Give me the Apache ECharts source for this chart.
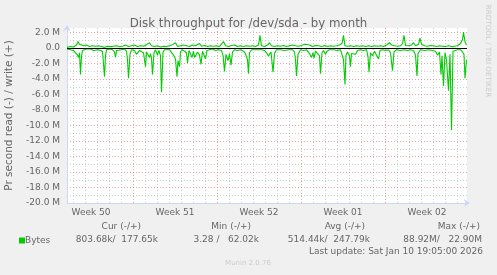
<!DOCTYPE html>
<html><head><meta charset="utf-8">
<script src="https://cdn.jsdelivr.net/npm/echarts@6/dist/echarts.min.js"></script>
<style>html,body{margin:0;padding:0;background:#f0f0f0}#c{width:497px;height:275px}</style>
</head><body><div id="c"></div>
<script>
const titleText = 'Disk throughput for /dev/sda - by month';
const yAxisTitle = 'Pr second read (-) / write (+)';
const weekLabels = ['Week 50', 'Week 51', 'Week 52', 'Week 01', 'Week 02'];
// hours since start of week 50; values in MB/s (read negative)
const readHours = [36,43,49,53,57,59,61,63,65,67,71,75,79,83,89,93,99,103,107,111,113,115,121,127,131,133,135,139,145,151,155,157,159,162,165,171,175,178,181,185,189,193,195,199,201,203,205,207,210,213,217,220,223,225,228,231,235,241,245,249,253,256,258,261,263,267,271,275,277,280,283,286,289,291,294,297,301,304,307,311,313,316,321,327,333,339,345,348,351,354,358,361,364,367,371,377,383,389,393,397,399,401,405,413,419,425,431,435,439,441,444,448,451,455,463,471,479,487,491,493,495,498,500,503,509,515,521,523,525,528,530,533,537,541,543,546,549,553,556,561,569,577,583,587,589,592,594,597,601,603,605,609,613,617,623,629,635,638,640,643,647,651,655,659,662,667,673,679,683,687,690,695,703,711,717,723,729,733,736,738,743,751,759,767,773,777,781,784,786,789,792,795,799,802,805,808,811,817,823,827,830,832,835];
const readMB = [-0.1,-0.2,-0.3,-0.5,-0.9,-1.2,-0.6,-3.4,-1.0,-0.3,-0.2,-0.1,-0.2,-0.1,-0.3,-0.1,-0.2,-0.1,-0.4,-3.7,-1.0,-0.2,-0.1,-0.2,-0.5,-1.2,-0.3,-0.1,-0.2,-0.1,-0.4,-1.5,-3.9,-0.8,-0.2,-0.3,-0.8,-0.9,-0.3,-0.2,-0.6,-2.4,-0.5,-0.6,-1.2,-0.7,-1.3,-3.4,-0.6,-0.2,-0.9,-0.3,-1.0,-5.7,-0.5,-0.2,-0.1,-0.2,-0.3,-0.9,-1.4,-3.7,-1.6,-2.4,-0.5,-0.2,-0.3,-0.6,-1.9,-0.3,-0.2,-1.2,-0.4,-1.2,-0.9,-0.5,-0.9,-2.1,-0.4,-0.6,-1.4,-0.3,-0.2,-0.1,-0.3,-0.2,-0.3,-0.9,-3.0,-0.8,-1.6,-0.7,-2.2,-0.5,-0.2,-0.3,-0.2,-0.4,-0.7,-1.5,-3.3,-0.6,-0.2,-0.2,-0.2,-0.2,-0.3,-0.6,-1.0,-1.2,-0.5,-3.1,-0.7,-0.2,-0.2,-0.3,-0.2,-0.2,-0.5,-1.5,-3.6,-0.8,-0.7,-0.2,-0.3,-0.2,-0.7,-0.9,-1.2,-0.6,-1.3,-0.4,-0.3,-1.0,-3.3,-0.6,-0.3,-0.8,-0.4,-0.2,-0.2,-0.3,-0.2,-0.4,-1.5,-4.7,-0.9,-0.5,-1.0,-2.4,-0.7,-0.5,-0.8,-0.3,-0.2,-0.3,-0.2,-1.1,-3.1,-0.6,-1.0,-0.4,-0.3,-1.4,-0.3,-0.2,-0.3,-0.2,-0.6,-2.9,-0.5,-0.2,-0.3,-0.2,-0.3,-0.2,-0.3,-0.9,-3.6,-0.7,-0.2,-0.3,-0.2,-0.3,-0.4,-0.9,-0.5,-3.4,-1.0,-4.9,-0.6,-1.5,-5.5,-0.8,-10.6,-0.4,-0.3,-0.2,-0.2,-0.5,-0.8,-3.9,-1.5];
const writeHours = [36,43,49,55,58,61,65,69,75,81,87,93,99,105,111,117,123,129,135,141,147,153,155,159,165,171,177,183,189,195,201,205,211,217,223,229,235,241,247,253,257,263,269,275,281,287,293,297,301,305,311,317,323,329,335,341,345,349,353,359,365,371,373,377,383,389,395,401,407,413,419,422,425,431,437,441,445,451,457,463,469,475,481,487,493,499,505,511,515,521,527,533,539,545,551,557,563,569,575,581,586,589,592,597,603,609,615,621,627,633,639,645,651,657,663,669,675,681,685,691,697,703,707,710,713,719,725,729,733,739,742,745,751,757,763,769,775,781,787,793,799,805,811,817,823,827,829,832,835];
const writeMB = [0.1,0.2,0.15,0.4,0.86,0.5,0.6,0.3,0.4,0.2,0.3,0.25,0.3,0.2,0.1,0.25,0.2,0.25,0.3,0.2,0.25,0.4,0.64,0.2,0.3,0.4,0.2,0.3,0.25,0.45,0.7,0.3,0.2,0.3,0.15,0.25,0.2,0.3,0.45,0.7,0.2,0.3,0.4,0.3,0.2,0.4,0.3,0.5,0.6,0.25,0.35,0.2,0.3,0.25,0.3,0.2,0.4,0.85,0.3,0.2,0.35,0.4,0.45,0.2,0.3,0.2,0.3,0.25,0.3,0.2,0.4,1.64,0.3,0.2,0.4,0.7,0.3,0.2,0.3,0.25,0.35,0.2,0.3,0.4,0.3,0.25,0.35,0.5,0.3,0.4,0.2,0.35,0.3,0.2,0.35,0.2,0.3,0.25,0.3,0.4,0.6,1.64,0.3,0.25,0.3,0.2,0.3,0.25,0.3,0.2,0.3,0.2,0.3,0.25,0.3,0.2,0.4,0.7,0.4,0.3,0.25,0.3,0.6,1.64,0.35,0.3,0.4,0.7,0.3,0.5,1.3,0.5,0.3,0.25,0.35,0.3,0.2,0.3,0.25,0.2,0.3,0.2,0.25,0.3,0.6,1.1,2.06,0.8,0.4];
const statHeaders = ['Cur (-/+)', 'Min (-/+)', 'Avg (-/+)', 'Max (-/+)'];
const statValues = ['803.68k/  177.65k', '3.28 /   62.02k', '514.44k/  247.79k', '88.92M/   22.90M'];
const lastUpdate = 'Last update: Sat Jan 10 19:05:00 2026';
const credit = 'Munin 2.0.76';
const sideText = 'RRDTOOL / TOBI OETIKER';

const FONT = 'DejaVu Sans';
const RED = 'rgba(235,110,110,0.65)';
const GRAY = 'rgba(150,150,150,0.45)';
const AXIS = '#CFD6F8';
const xColors = [];
for (let j = 0; j < 14; j++) xColors.push(j === 11 ? RED : (j % 2 === 1 ? GRAY : 'rgba(0,0,0,0)'));

const pair = (xs, ys) => xs.map((x, i) => [x, ys[i]]);
const chart = echarts.init(document.getElementById('c'));
const headerX = [141, 251, 365, 480];
const valueX = [158, 259, 370, 482];
const graphics = [];
statHeaders.forEach((t, i) => graphics.push({type: 'text', x: headerX[i], y: 227, style: {text: t, fill: '#666', font: '9px "DejaVu Sans"', textAlign: 'right', textVerticalAlign: 'middle'}}));
statValues.forEach((t, i) => graphics.push({type: 'text', x: valueX[i], y: 239.5, style: {text: t, fill: '#666', font: '9px "DejaVu Sans"', textAlign: 'right', textVerticalAlign: 'middle'}}));
graphics.push({type: 'text', x: 483, y: 251.5, style: {text: lastUpdate, fill: '#666', font: '9px "DejaVu Sans"', textAlign: 'right', textVerticalAlign: 'middle'}});
graphics.push({type: 'text', x: 248, y: 263, style: {text: credit, fill: '#cccccc', font: '7px "DejaVu Sans"', textAlign: 'center', textVerticalAlign: 'middle'}});
graphics.push({type: 'text', x: 488, y: 51, rotation: -Math.PI / 2, style: {text: sideText, fill: '#cccccc', font: '7.2px "DejaVu Sans"', textAlign: 'center', textVerticalAlign: 'middle'}});

chart.setOption({
  animation: false,
  backgroundColor: '#f0f0f0',
  title: {text: titleText, left: 'center', top: 13, textStyle: {fontFamily: FONT, fontSize: 11.8, fontWeight: 'normal', color: '#666'}},
  legend: {data: ['Bytes'], left: 14, top: 231, icon: 'rect', itemWidth: 6, itemHeight: 6, itemGap: 0,
    textStyle: {fontFamily: FONT, fontSize: 9, color: '#666', padding: [0, 0, 0, -5]}},
  grid: {left: 67, right: 30, top: 28, bottom: 72, show: true, backgroundColor: '#ffffff', borderWidth: 0,
    containLabel: false, outerBoundsMode: 'none'},
  xAxis: {
    type: 'value', min: 36, max: 836, interval: 12,
    axisLine: {onZero: false, lineStyle: {color: AXIS, width: 1}, symbol: ['none', 'arrow'], symbolSize: [6, 6], symbolOffset: [0, 3]},
    axisTick: {show: false},
    splitLine: {show: true, showMinLine: true, showMaxLine: false, lineStyle: {color: xColors, type: [1, 2], width: 1}},
    axisLabel: {margin: 5, fontFamily: FONT, fontSize: 9, color: '#666', showMinLabel: false, showMaxLabel: false,
      formatter: v => (v >= 84 && (v - 84) % 168 === 0) ? (weekLabels[(v - 84) / 168] || '') : ''}
  },
  yAxis: {
    type: 'value', min: -20, max: 2.6, interval: 1,
    name: yAxisTitle, nameLocation: 'middle', nameGap: 49, nameRotate: 90,
    nameTextStyle: {fontFamily: FONT, fontSize: 10.5, color: '#666'},
    axisLine: {show: true, onZero: false, lineStyle: {color: AXIS, width: 1}, symbol: ['none', 'arrow'], symbolSize: [6, 6], symbolOffset: [0, 3]},
    axisTick: {show: false},
    splitLine: {show: true, showMinLine: true, showMaxLine: false, lineStyle: {color: [RED, GRAY], type: [1, 2], width: 1}},
    axisLabel: {margin: 7, fontFamily: FONT, fontSize: 9, color: '#666', showMaxLabel: false,
      formatter: v => (Number.isInteger(v) && v % 2 === 0) ? (v === 0 ? '0.0' : v.toFixed(1) + ' M') : ''}
  },
  series: [
    {name: 'Bytes', type: 'line', data: pair(readHours, readMB), showSymbol: false, symbol: 'none',
      lineStyle: {color: '#00cc00', width: 1.1}, itemStyle: {color: '#00cc00'}, z: 3},
    {name: 'Bytes', type: 'line', data: pair(writeHours, writeMB), showSymbol: false, symbol: 'none',
      lineStyle: {color: '#00cc00', width: 1.1}, itemStyle: {color: '#00cc00'}, z: 3,
      markLine: {silent: true, symbol: 'none', label: {show: false}, lineStyle: {color: '#000', type: 'solid', width: 1}, data: [{yAxis: 0}]}}
  ],
  graphic: graphics
});
</script></body></html>
